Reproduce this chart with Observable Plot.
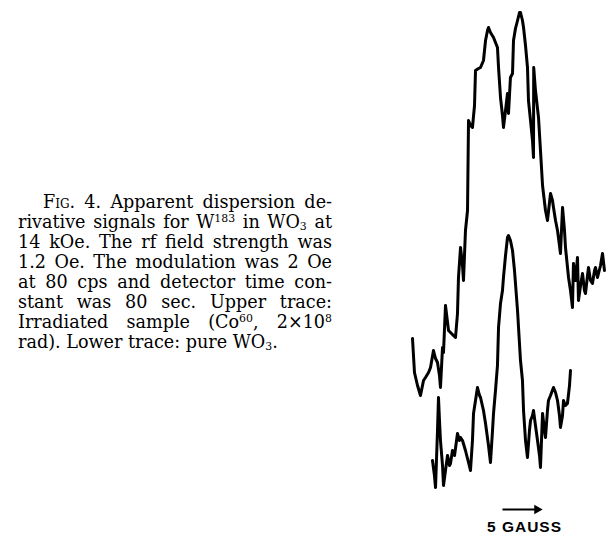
<!DOCTYPE html>
<html>
<head>
<meta charset="utf-8">
<script src="https://cdn.jsdelivr.net/npm/d3@7"></script>
<script src="https://cdn.jsdelivr.net/npm/@observablehq/plot@0.6"></script>
<style>
  html, body { margin: 0; padding: 0; background: #fff; }
  #page { position: relative; width: 606px; height: 537px; overflow: hidden; }
  #caption {
    position: absolute; left: 18px; top: 192px; width: 314px;
    font-family: "DejaVu Serif", serif; font-size: 17.6px; line-height: 20px; color: #000;
  }
  #caption .ln { white-space: nowrap; text-align: justify; text-align-last: justify; }
  #caption .ln.last { text-align-last: left; }
  #caption .ind { padding-left: 25px; }
  #caption sup, #caption sub { font-size: 0.62em; line-height: 0; }
  #caption sup { vertical-align: 0.55em; }
  #caption sub { vertical-align: -0.15em; }
  #chart { position: absolute; left: 400px; top: 0; }
</style>
</head>
<body>
<div id="page">
  <div id="caption">
    <div class="ln ind"><span style="font-variant:small-caps">Fig.</span> 4. Apparent dispersion de-</div>
    <div class="ln">rivative signals for W<sup>183</sup> in WO<sub>3</sub> at</div>
    <div class="ln">14 kOe. The rf field strength was</div>
    <div class="ln">1.2 Oe. The modulation was 2 Oe</div>
    <div class="ln">at 80 cps and detector time con-</div>
    <div class="ln">stant was 80 sec. Upper trace:</div>
    <div class="ln">Irradiated sample (Co<sup>60</sup>, 2×10<sup>8</sup></div>
    <div class="ln last">rad). Lower trace: pure WO<sub>3</sub>.</div>
  </div>
  <div id="chart"></div>
</div>
<script>
// Field sweep in gauss, signal in arbitrary units
const upperX = [0,0.26,0.66,1.05,1.45,1.71,2.11,2.37,2.76,3.03,3.29,3.55,3.68,3.95,4.08,4.34,4.61,4.74,5.13,5.39,5.66,5.92,6.05,6.32,6.58,6.71,6.97,7.24,7.37,7.63,7.89,8.16,8.29,8.68,8.95,9.34,9.61,9.87,10.0,10.26,10.66,10.92,11.18,11.32,11.45,11.58,11.84,11.97,12.24,12.5,12.63,12.76,12.89,13.16,13.29,13.55,13.82,14.08,14.21,14.47,14.61,14.87,15.13,15.26,15.53,15.79,15.92,15.95,16.18,16.58,16.84,17.11,17.5,17.76,18.16,18.42,18.55,18.82,19.08,19.34,19.47,19.74,20.0,20.13,20.53,20.79,21.05,21.18,21.45,21.71,21.84,22.11,22.37,22.63,22.76,23.03,23.16,23.42,23.68,23.95,24.08,24.34,24.74,25.0,25.26];
const upperY = [19.9,16.5,15.2,14.2,15.7,16.0,16.5,17.0,18.7,17.9,17.5,16.2,15.0,19.0,18.5,23.2,21.5,20.7,20.4,20.2,20.0,22.4,26.0,29.0,27.2,25.7,30.7,32.7,41.7,41.2,41.0,43.2,46.7,46.9,47.0,47.7,49.7,50.7,51.0,50.5,50.0,49.5,49.0,47.0,45.5,44.0,42.2,41.0,42.7,44.4,42.4,44.2,46.0,46.4,49.7,50.9,51.7,52.5,52.5,51.7,51.0,49.2,47.0,43.7,41.7,39.7,38.0,47.0,44.7,42.0,38.7,35.2,32.7,31.7,34.4,33.7,33.0,31.7,30.7,29.2,28.4,33.0,30.7,29.0,26.0,24.7,23.0,27.4,25.7,28.0,23.7,25.2,26.4,24.7,24.4,26.2,27.0,25.7,25.4,26.7,27.0,26.0,27.2,28.4,26.7];
const lowerX = [2.63,2.89,3.03,3.29,3.42,3.55,3.68,3.95,4.08,4.34,4.61,4.87,5.0,5.26,5.53,5.92,6.18,6.32,6.58,6.97,7.37,7.63,7.89,8.03,8.29,8.55,8.82,8.95,9.34,9.61,10.0,10.26,10.53,10.66,10.92,11.18,11.32,11.45,11.58,11.84,11.97,12.24,12.5,12.63,12.89,13.16,13.42,13.55,13.82,13.95,14.21,14.47,14.61,14.87,15.13,15.39,15.53,15.79,15.92,16.18,16.45,16.71,16.84,17.11,17.37,17.5,17.76,17.89,18.16,18.55,18.82,19.08,19.34,19.47,19.74,19.87,20.13,20.39,20.66,20.79];
const lowerY = [7.7,6.2,5.0,10.7,14.0,11.7,9.7,7.2,5.2,6.7,8.2,7.2,7.4,8.7,8.2,10.4,9.7,10.0,9.7,8.7,7.5,6.7,9.7,12.4,13.7,15.0,14.2,14.0,12.7,11.4,9.2,7.5,10.7,12.4,14.7,17.2,21.0,22.2,23.4,24.7,26.0,28.2,30.0,30.2,29.7,28.7,26.7,25.4,22.7,21.0,17.7,15.7,12.7,9.7,8.0,10.7,11.7,12.2,12.7,11.2,9.7,8.2,7.0,12.4,10.7,10.0,12.7,13.7,14.2,15.0,14.5,13.7,12.2,11.0,12.2,13.7,13.2,13.4,15.2,16.7];
// Scale bar: 5 gauss
const scaleStart = 11.84;
const scaleLength = 5;
const scaleLevel = 2.8;
const scaleLabel = "5 GAUSS";
const labelLevel = 1.05;

const upper = upperX.map((x, i) => ({x, y: upperY[i]}));
const lower = lowerX.map((x, i) => ({x, y: lowerY[i]}));
const bar = [{x1: scaleStart, x2: scaleStart + scaleLength, y: scaleLevel}];

const chart = Plot.plot({
  width: 206,
  height: 537,
  margin: 0,
  style: {background: "transparent", overflow: "visible"},
  x: {domain: [0, 25], range: [12, 202], axis: null},
  y: {domain: [0, 53.7], range: [537, 0], axis: null},
  marks: [
    Plot.line(upper, {x: "x", y: "y", stroke: "#000", strokeWidth: 3, strokeLinejoin: "round", strokeLinecap: "round"}),
    Plot.line(lower, {x: "x", y: "y", stroke: "#000", strokeWidth: 3, strokeLinejoin: "round", strokeLinecap: "round"}),
    Plot.link(bar, {x1: "x1", x2: d => d.x2 - 0.6, y1: "y", y2: "y", stroke: "#000", strokeWidth: 2}),
    Plot.dot(bar, {x: d => d.x2 - 0.45, y: "y", symbol: "triangle", r: 3.6, fill: "#000", stroke: "none", rotate: 90}),
    Plot.text([scaleLabel], {x: scaleStart + scaleLength * 0.58, y: labelLevel, text: d => d, fontFamily: "Liberation Sans, Arial, sans-serif", fontWeight: "bold", fontSize: 15.5, fill: "#000"})
  ]
});
chart.style.letterSpacing = "1px";
document.getElementById("chart").appendChild(chart);
</script>
</body>
</html>
